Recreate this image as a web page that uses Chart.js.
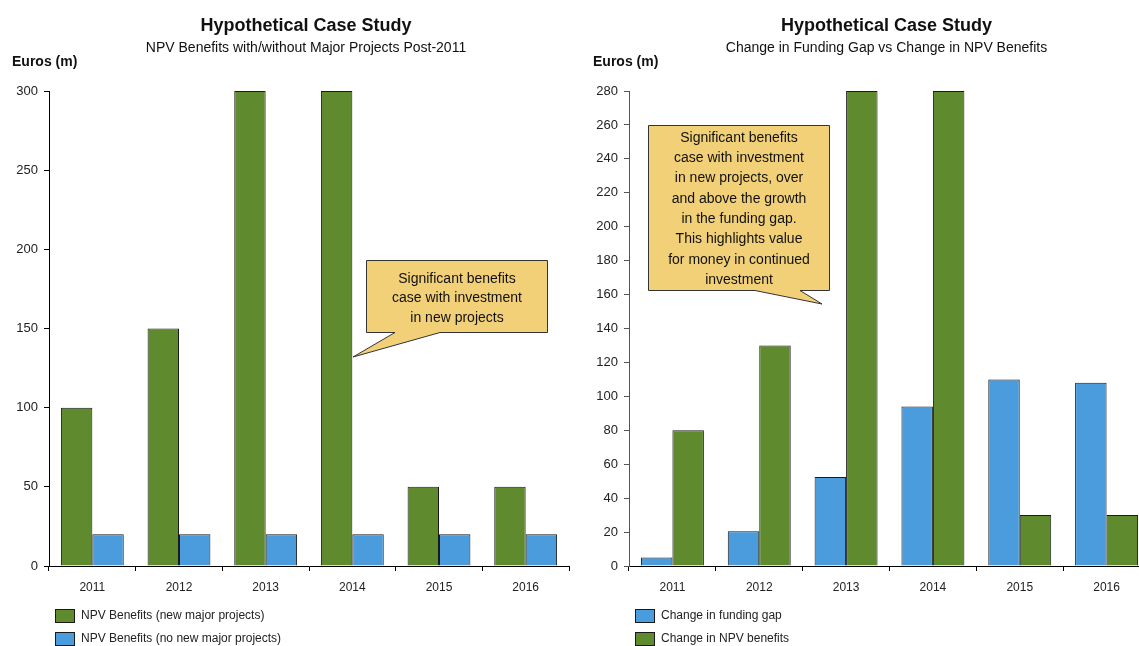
<!DOCTYPE html>
<html>
<head>
<meta charset="utf-8">
<title>Hypothetical Case Study</title>
<script src="https://cdn.jsdelivr.net/npm/chart.js@4.4.1/dist/chart.umd.min.js"></script>
<style>
  html, body { margin: 0; padding: 0; background: #fff; overflow: hidden; }
  body { width: 1139px; height: 646px; position: relative; }
  canvas { position: absolute; top: 0; }
  #leftChart { left: 0; }
  #rightChart { left: 570px; }
</style>
</head>
<body>
<canvas id="leftChart" width="570" height="646"></canvas>
<canvas id="rightChart" width="581" height="646"></canvas>
<script>
'use strict';

// data
var years = ['2011', '2012', '2013', '2014', '2015', '2016'];
var npvNewProjects = [100, 150, 300, 300, 50, 50];
var npvNoNewProjects = [20, 20, 20, 20, 20, 20];
var fundingGapChange = [5, 20.5, 52.5, 94, 110, 108];
var npvBenefitsChange = [80, 130, 280, 280, 30, 30];

// colours + fonts
var green = '#5f8b2e';
var blue = '#4b9cdc';
var fontFamily = '"Liberation Sans", Arial, sans-serif';
var calloutFill = '#f2d078';

// titles, legend and callout boxes drawn on top of the chart
var decor = {
  id: 'decor',
  afterDraw: function(chart, args, opts){
    var ctx = chart.ctx;
    var area = chart.chartArea;
    var cx = (area.left + area.right) / 2 - 3;
    ctx.save();
    ctx.fillStyle = '#111';
    ctx.textAlign = 'center';
    ctx.textBaseline = 'middle';
    ctx.font = 'bold 18px ' + fontFamily;
    ctx.fillText(opts.title, cx, 26);
    ctx.font = '14px ' + fontFamily;
    ctx.fillText(opts.subtitle, cx, 48);

    ctx.textAlign = 'left';
    ctx.font = 'bold 14px ' + fontFamily;
    ctx.fillText('Euros (m)', opts.unitX, 62);

    // legend
    ctx.font = '12px ' + fontFamily;
    chart.data.datasets.forEach(function(ds, i){
      var top = 609 + i * 23;
      ctx.fillStyle = ds.backgroundColor;
      ctx.fillRect(opts.legendX, top, 20, 14);
      ctx.strokeStyle = '#1a1a1a';
      ctx.lineWidth = 1;
      ctx.strokeRect(opts.legendX + 0.5, top + 0.5, 19, 13);
      ctx.fillStyle = '#222';
      ctx.fillText(ds.label, opts.legendX + 26, top + 7);
    });

    // speech-bubble callout
    var c = opts.callout;
    ctx.beginPath();
    ctx.moveTo(c.left, c.top);
    ctx.lineTo(c.right, c.top);
    ctx.lineTo(c.right, c.bottom);
    ctx.lineTo(c.tailRight, c.bottom);
    ctx.lineTo(c.tipX, c.tipY);
    ctx.lineTo(c.tailLeft, c.bottom);
    ctx.lineTo(c.left, c.bottom);
    ctx.closePath();
    ctx.fillStyle = calloutFill;
    ctx.fill();
    ctx.strokeStyle = '#333';
    ctx.lineWidth = 1;
    ctx.stroke();

    ctx.fillStyle = '#111';
    ctx.textAlign = 'center';
    ctx.font = '14px ' + fontFamily;
    c.lines.forEach(function(line, i){
      ctx.fillText(line, (c.left + c.right) / 2, c.firstLine + i * c.lineStep);
    });
    ctx.restore();
  }
};

function barDataset(label, values, colour){
  return {
    label: label,
    data: values,
    backgroundColor: colour,
    borderColor: '#1a1a1a',
    borderWidth: 1,
    categoryPercentage: 0.725,
    barPercentage: 1
  };
}

function buildScales(axisWidth, max, step, axisColour){
  return {
    x: {
      grid: {display: true, drawOnChartArea: false, tickLength: 5, color: '#000', offset: true},
      border: {display: true, color: '#000', width: 1},
      ticks: {color: '#222', font: {family: fontFamily, size: 12}, padding: 9},
      afterFit: function(scale){ scale.height = 30; }
    },
    y: {
      min: 0,
      max: max,
      grid: {display: true, drawOnChartArea: false, tickLength: 5, color: axisColour},
      border: {display: true, color: axisColour, width: 1},
      ticks: {stepSize: step, color: '#222', font: {family: fontFamily, size: 13}, padding: 6},
      afterFit: function(scale){ scale.width = axisWidth; }
    }
  };
}

function drawChart(id, datasets, axisWidth, max, step, axisColour, decorOpts){
  var canvas = document.getElementById(id);
  return new Chart(canvas.getContext('2d'), {
    type: 'bar',
    data: {labels: years, datasets: datasets},
    options: {
      responsive: false,
      animation: false,
      layout: {padding: {top: 91, right: 1, bottom: 50, left: 0}},
      plugins: {
        legend: {display: false},
        tooltip: {enabled: false},
        decor: decorOpts
      },
      scales: buildScales(axisWidth, max, step, axisColour)
    },
    plugins: [decor]
  });
}

drawChart('leftChart', [
  barDataset('NPV Benefits (new major projects)', npvNewProjects, green),
  barDataset('NPV Benefits (no new major projects)', npvNoNewProjects, blue)
], 49, 300, 50, '#000', {
  title: 'Hypothetical Case Study',
  subtitle: 'NPV Benefits with/without Major Projects Post-2011',
  unitX: 12,
  legendX: 55,
  callout: {
    left: 366.5, right: 547.5, top: 260.5, bottom: 332.5,
    tailLeft: 395, tailRight: 440, tipX: 353, tipY: 357,
    firstLine: 279, lineStep: 19.5,
    lines: ['Significant benefits', 'case with investment', 'in new projects']
  }
});

drawChart('rightChart', [
  barDataset('Change in funding gap', fundingGapChange, blue),
  barDataset('Change in NPV benefits', npvBenefitsChange, green)
], 59, 280, 20, '#555', {
  title: 'Hypothetical Case Study',
  subtitle: 'Change in Funding Gap vs Change in NPV Benefits',
  unitX: 23,
  legendX: 65,
  callout: {
    left: 78.5, right: 259.5, top: 125.5, bottom: 290.5,
    tailLeft: 185, tailRight: 230, tipX: 252, tipY: 304,
    firstLine: 138, lineStep: 20.3,
    lines: ['Significant benefits', 'case with investment', 'in new projects, over',
      'and above the growth', 'in the funding gap.', 'This highlights value',
      'for money in continued', 'investment']
  }
});
</script>
</body>
</html>
